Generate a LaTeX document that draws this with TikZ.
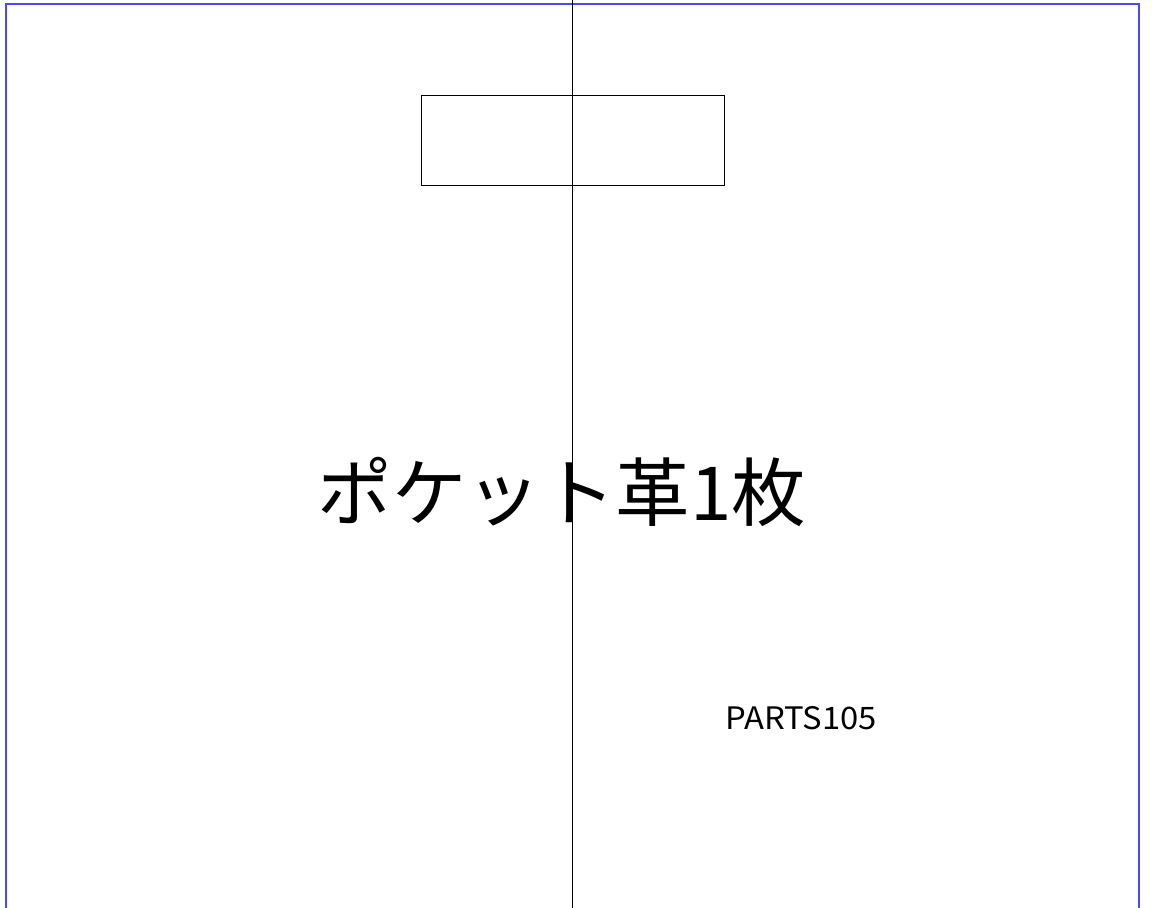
\documentclass[tikz,border=0pt]{standalone}
\usepackage{fontspec}
\usepackage{tikz}
\usetikzlibrary{positioning}
\newfontfamily\jpfont{Noto Sans CJK JP}
\definecolor{frameblue}{RGB}{72,72,255}
\tikzset{
	frame line/.style={draw=frameblue,line width=1.4pt},
	center line/.style={draw=black,line width=0.6pt},
	part box/.style={rectangle,draw=black,line width=0.6pt,minimum width=7.575cm,minimum height=2.25cm,inner sep=0pt},
	big label/.style={font=\jpfont\fontsize{53}{63}\selectfont,inner sep=0pt},
	small label/.style={font=\jpfont\fontsize{22}{26}\selectfont,inner sep=0pt,xscale=1.06}
}

\begin{document}
\begin{tikzpicture}[x=0.025cm,y=-0.025cm]
	\useasboundingbox (0,0) rectangle (1152,908);
	\coordinate (fbl) at (6,908);
	\coordinate (ftl) at (6,4);
	\coordinate (ftr) at (1139,4);
	\coordinate (fbr) at (1139,908);
	\draw [frame line] (fbl) -- (ftl) -- (ftr) -- (fbr);
	\node [part box] (box) at (572.5,140) {};
	\coordinate (top) at (572,0);
	\coordinate (bottom) at (572,908);
	\draw [center line] (top) -- (bottom);
	\node [big label] (title) at (562,492) {ポケット革1枚};
	\node [small label] (parts) at (801,718) {PARTS105};
\end{tikzpicture}
\end{document}
